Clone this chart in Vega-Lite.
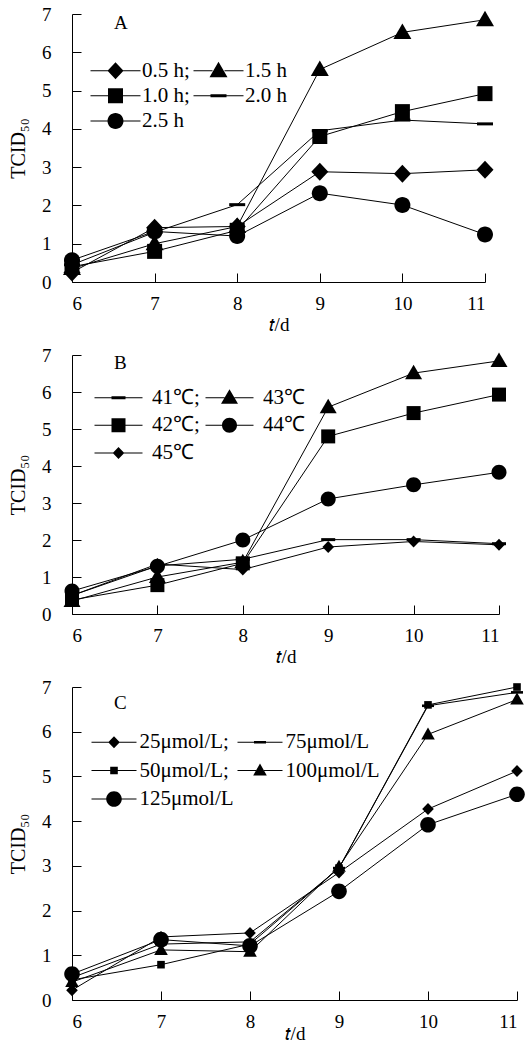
{
  "$schema": "https://vega.github.io/schema/vega-lite/v6.json",
  "padding": {"left": 8, "top": 5, "right": 0, "bottom": 0},
  "config": {
    "font": "Liberation Serif",
    "view": {"stroke": null},
    "axis": {
      "grid": false, "domainColor": "black", "tickColor": "black", "labelColor": "black", "titleColor": "black",
      "tickSize": -9, "domainWidth": 1, "tickWidth": 1, "labelFontSize": 19, "titleFontSize": 19, "titleFontWeight": "normal"
    },
    "axisX": {"labelPadding": 21, "titlePadding": 2},
    "axisY": {"labelPadding": 30, "titlePadding": 13, "titleFontSize": 20},
    "legend": {"padding": 0, "labelFontSize": 21, "labelColor": "black", "symbolStrokeWidth": 0, "symbolFillColor": "black", "symbolSize": 400, "columns": 2, "orient": "none", "title": null, "symbolLimit": 0},
    "title": {"fontSize": 19, "fontWeight": "normal", "color": "black", "anchor": "start", "frame": "group", "dx": 42}
  },
  "datasets": {
    "A": [
      {"day": 6, "value": 0.25, "series": "0.5 h"}, {"day": 7, "value": 1.42, "series": "0.5 h"}, {"day": 8, "value": 1.45, "series": "0.5 h"}, {"day": 9, "value": 2.88, "series": "0.5 h"}, {"day": 10, "value": 2.83, "series": "0.5 h"}, {"day": 11, "value": 2.93, "series": "0.5 h"},
      {"day": 6, "value": 0.40, "series": "1.0 h"}, {"day": 7, "value": 0.80, "series": "1.0 h"}, {"day": 8, "value": 1.35, "series": "1.0 h"}, {"day": 9, "value": 3.80, "series": "1.0 h"}, {"day": 10, "value": 4.45, "series": "1.0 h"}, {"day": 11, "value": 4.92, "series": "1.0 h"},
      {"day": 6, "value": 0.35, "series": "1.5 h"}, {"day": 7, "value": 1.00, "series": "1.5 h"}, {"day": 8, "value": 1.45, "series": "1.5 h"}, {"day": 9, "value": 5.55, "series": "1.5 h"}, {"day": 10, "value": 6.52, "series": "1.5 h"}, {"day": 11, "value": 6.85, "series": "1.5 h"},
      {"day": 6, "value": 0.45, "series": "2.0 h"}, {"day": 7, "value": 1.30, "series": "2.0 h"}, {"day": 8, "value": 2.02, "series": "2.0 h"}, {"day": 9, "value": 3.95, "series": "2.0 h"}, {"day": 10, "value": 4.23, "series": "2.0 h"}, {"day": 11, "value": 4.13, "series": "2.0 h"},
      {"day": 6, "value": 0.57, "series": "2.5 h"}, {"day": 7, "value": 1.32, "series": "2.5 h"}, {"day": 8, "value": 1.20, "series": "2.5 h"}, {"day": 9, "value": 2.32, "series": "2.5 h"}, {"day": 10, "value": 2.01, "series": "2.5 h"}, {"day": 11, "value": 1.24, "series": "2.5 h"}
    ],
    "B": [
      {"day": 6, "value": 0.50, "series": "41℃"}, {"day": 7, "value": 1.30, "series": "41℃"}, {"day": 8, "value": 1.48, "series": "41℃"}, {"day": 9, "value": 2.01, "series": "41℃"}, {"day": 10, "value": 2.01, "series": "41℃"}, {"day": 11, "value": 1.90, "series": "41℃"},
      {"day": 6, "value": 0.38, "series": "42℃"}, {"day": 7, "value": 0.78, "series": "42℃"}, {"day": 8, "value": 1.37, "series": "42℃"}, {"day": 9, "value": 4.80, "series": "42℃"}, {"day": 10, "value": 5.43, "series": "42℃"}, {"day": 11, "value": 5.93, "series": "42℃"},
      {"day": 6, "value": 0.35, "series": "43℃"}, {"day": 7, "value": 1.00, "series": "43℃"}, {"day": 8, "value": 1.40, "series": "43℃"}, {"day": 9, "value": 5.59, "series": "43℃"}, {"day": 10, "value": 6.51, "series": "43℃"}, {"day": 11, "value": 6.84, "series": "43℃"},
      {"day": 6, "value": 0.62, "series": "44℃"}, {"day": 7, "value": 1.29, "series": "44℃"}, {"day": 8, "value": 2.00, "series": "44℃"}, {"day": 9, "value": 3.11, "series": "44℃"}, {"day": 10, "value": 3.49, "series": "44℃"}, {"day": 11, "value": 3.83, "series": "44℃"},
      {"day": 6, "value": 0.50, "series": "45℃"}, {"day": 7, "value": 1.35, "series": "45℃"}, {"day": 8, "value": 1.20, "series": "45℃"}, {"day": 9, "value": 1.81, "series": "45℃"}, {"day": 10, "value": 1.96, "series": "45℃"}, {"day": 11, "value": 1.87, "series": "45℃"}
    ],
    "C": [
      {"day": 6, "value": 0.22, "series": "25μmol/L"}, {"day": 7, "value": 1.41, "series": "25μmol/L"}, {"day": 8, "value": 1.50, "series": "25μmol/L"}, {"day": 9, "value": 2.85, "series": "25μmol/L"}, {"day": 10, "value": 4.27, "series": "25μmol/L"}, {"day": 11, "value": 5.12, "series": "25μmol/L"},
      {"day": 6, "value": 0.45, "series": "50μmol/L"}, {"day": 7, "value": 0.79, "series": "50μmol/L"}, {"day": 8, "value": 1.25, "series": "50μmol/L"}, {"day": 9, "value": 2.95, "series": "50μmol/L"}, {"day": 10, "value": 6.60, "series": "50μmol/L"}, {"day": 11, "value": 7.00, "series": "50μmol/L"},
      {"day": 6, "value": 0.50, "series": "75μmol/L"}, {"day": 7, "value": 1.25, "series": "75μmol/L"}, {"day": 8, "value": 1.30, "series": "75μmol/L"}, {"day": 9, "value": 2.95, "series": "75μmol/L"}, {"day": 10, "value": 6.58, "series": "75μmol/L"}, {"day": 11, "value": 6.88, "series": "75μmol/L"},
      {"day": 6, "value": 0.40, "series": "100μmol/L"}, {"day": 7, "value": 1.12, "series": "100μmol/L"}, {"day": 8, "value": 1.08, "series": "100μmol/L"}, {"day": 9, "value": 2.98, "series": "100μmol/L"}, {"day": 10, "value": 5.94, "series": "100μmol/L"}, {"day": 11, "value": 6.72, "series": "100μmol/L"},
      {"day": 6, "value": 0.58, "series": "125μmol/L"}, {"day": 7, "value": 1.35, "series": "125μmol/L"}, {"day": 8, "value": 1.21, "series": "125μmol/L"}, {"day": 9, "value": 2.43, "series": "125μmol/L"}, {"day": 10, "value": 3.92, "series": "125μmol/L"}, {"day": 11, "value": 4.60, "series": "125μmol/L"}
    ]
  },
  "spacing": 12,
  "vconcat": [
    {
      "width": 413, "height": 268,
      "data": {"name": "A"},
      "title": {"text": "A", "offset": -27.5},
      "encoding": {
        "x": {"field": "day", "type": "quantitative", "scale": {"domain": [6, 11], "nice": false, "zero": false}, "axis": {"values": [6, 7, 8, 9, 10, 11], "title": "𝑡/d"}},
        "y": {"field": "value", "type": "quantitative", "scale": {"domain": [0, 7], "nice": false}, "axis": {"values": [0, 1, 2, 3, 4, 5, 6, 7], "title": "TCID₅₀"}}
      },
      "layer": [
        {"mark": {"type": "line", "color": "black", "strokeWidth": 1}, "encoding": {"detail": {"field": "series"}, "order": {"field": "day"}}},
        {"mark": {"type": "point", "filled": true, "color": "black", "opacity": 1, "size": 400},
         "encoding": {"shape": {"field": "series", "legend": null, "scale": {"domain": ["0.5 h", "1.0 h", "1.5 h", "2.0 h", "2.5 h"], "range": [
           "M0,-0.9L0.85,0L0,0.9L-0.85,0Z",
           "M-0.75,-0.75H0.75V0.75H-0.75Z",
           "M0,-0.9L0.9,0.65L-0.9,0.65Z",
           "M-0.8,-0.15H0.8V0.15H-0.8Z",
           "M-0.8,0A0.8,0.8,0,1,1,0.8,0A0.8,0.8,0,1,1,-0.8,0Z"]}}}},
        {"mark": {"type": "point", "filled": true, "color": "black", "opacity": 0, "size": 400},
         "encoding": {"shape": {"field": "series",
           "legend": {"legendX": 18, "legendY": 46, "symbolOffset": 15, "labelOffset": 16, "rowPadding": 3.3, "columnPadding": 3,
             "labelExpr": "datum.label == '0.5 h' || datum.label == '1.0 h' ? datum.label + ';' : datum.label"},
           "scale": {"domain": ["0.5 h", "1.0 h", "2.5 h", "1.5 h", "2.0 h"], "range": [
           "M-2.5,-0.05H-0.6V0.05H-2.5Z M0.6,-0.05H2.5V0.05H0.6Z M0,-0.85L0.8,0L0,0.85L-0.8,0Z",
           "M-2.5,-0.05H-0.6V0.05H-2.5Z M0.6,-0.05H2.5V0.05H0.6Z M-0.75,-0.75H0.75V0.75H-0.75Z",
           "M-2.5,-0.05H-0.6V0.05H-2.5Z M0.6,-0.05H2.5V0.05H0.6Z M-0.8,0A0.8,0.8,0,1,1,0.8,0A0.8,0.8,0,1,1,-0.8,0Z",
           "M-2.5,-0.05H-0.6V0.05H-2.5Z M0.6,-0.05H2.5V0.05H0.6Z M0,-0.9L0.9,0.65L-0.9,0.65Z",
           "M-2.5,-0.05H-0.6V0.05H-2.5Z M0.6,-0.05H2.5V0.05H0.6Z M-0.8,-0.15H0.8V0.15H-0.8Z"]}}}}
      ],
      "resolve": {"scale": {"shape": "independent"}}
    },
    {
      "width": 427, "height": 259,
      "data": {"name": "B"},
      "title": {"text": "B", "offset": -27},
      "encoding": {
        "x": {"field": "day", "type": "quantitative", "scale": {"domain": [6, 11], "nice": false, "zero": false}, "axis": {"values": [6, 7, 8, 9, 10, 11], "title": "𝑡/d"}},
        "y": {"field": "value", "type": "quantitative", "scale": {"domain": [0, 7], "nice": false}, "axis": {"values": [0, 1, 2, 3, 4, 5, 6, 7], "title": "TCID₅₀"}}
      },
      "layer": [
        {"mark": {"type": "line", "color": "black", "strokeWidth": 1}, "encoding": {"detail": {"field": "series"}, "order": {"field": "day"}}},
        {"mark": {"type": "point", "filled": true, "color": "black", "opacity": 1, "size": 400},
         "encoding": {"shape": {"field": "series", "legend": null, "scale": {"domain": ["41℃", "42℃", "43℃", "44℃", "45℃"], "range": [
           "M-0.7,-0.15H0.7V0.15H-0.7Z",
           "M-0.7,-0.7H0.7V0.7H-0.7Z",
           "M0,-0.85L0.85,0.6L-0.85,0.6Z",
           "M-0.75,0A0.75,0.75,0,1,1,0.75,0A0.75,0.75,0,1,1,-0.75,0Z",
           "M0,-0.6L0.58,0L0,0.6L-0.58,0Z"]}}}},
        {"mark": {"type": "point", "filled": true, "color": "black", "opacity": 0, "size": 400},
         "encoding": {"shape": {"field": "series",
           "legend": {"legendX": 22, "legendY": 32, "symbolOffset": 14, "labelOffset": 23, "rowPadding": 5.7, "columnPadding": 5,
             "labelExpr": "datum.label == '41℃' || datum.label == '42℃' ? datum.label + ';' : datum.label"},
           "scale": {"domain": ["41℃", "42℃", "45℃", "43℃", "44℃"], "range": [
           "M-2.4,-0.05H-0.5V0.05H-2.4Z M0.5,-0.05H2.4V0.05H0.5Z M-0.7,-0.15H0.7V0.15H-0.7Z",
           "M-2.4,-0.05H-0.5V0.05H-2.4Z M0.5,-0.05H2.4V0.05H0.5Z M-0.7,-0.7H0.7V0.7H-0.7Z",
           "M-2.4,-0.05H-0.5V0.05H-2.4Z M0.5,-0.05H2.4V0.05H0.5Z M0,-0.6L0.58,0L0,0.6L-0.58,0Z",
           "M-2.4,-0.05H-0.5V0.05H-2.4Z M0.5,-0.05H2.4V0.05H0.5Z M0,-0.85L0.85,0.6L-0.85,0.6Z",
           "M-2.4,-0.05H-0.5V0.05H-2.4Z M0.5,-0.05H2.4V0.05H0.5Z M-0.75,0A0.75,0.75,0,1,1,0.75,0A0.75,0.75,0,1,1,-0.75,0Z"]}}}}
      ],
      "resolve": {"scale": {"shape": "independent"}}
    },
    {
      "width": 445, "height": 313,
      "data": {"name": "C"},
      "title": {"text": "C", "offset": -35},
      "encoding": {
        "x": {"field": "day", "type": "quantitative", "scale": {"domain": [6, 11], "nice": false, "zero": false}, "axis": {"values": [6, 7, 8, 9, 10, 11], "title": "𝑡/d", "titlePadding": -7}},
        "y": {"field": "value", "type": "quantitative", "scale": {"domain": [0, 7], "nice": false}, "axis": {"values": [0, 1, 2, 3, 4, 5, 6, 7], "title": "TCID₅₀"}}
      },
      "layer": [
        {"mark": {"type": "line", "color": "black", "strokeWidth": 1}, "encoding": {"detail": {"field": "series"}, "order": {"field": "day"}}},
        {"mark": {"type": "point", "filled": true, "color": "black", "opacity": 1, "size": 400},
         "encoding": {"shape": {"field": "series", "legend": null, "scale": {"domain": ["25μmol/L", "50μmol/L", "75μmol/L", "100μmol/L", "125μmol/L"], "range": [
           "M0,-0.6L0.58,0L0,0.6L-0.58,0Z",
           "M-0.38,-0.38H0.38V0.38H-0.38Z",
           "M-0.6,-0.13H0.6V0.13H-0.6Z",
           "M0,-0.7L0.68,0.5L-0.68,0.5Z",
           "M-0.78,0A0.78,0.78,0,1,1,0.78,0A0.78,0.78,0,1,1,-0.78,0Z"]}}}},
        {"mark": {"type": "point", "filled": true, "color": "black", "opacity": 0, "size": 400},
         "encoding": {"shape": {"field": "series",
           "legend": {"legendX": 19, "legendY": 44.5, "symbolOffset": 12.5, "labelOffset": 15, "rowPadding": 6.5, "columnPadding": 3,
             "labelExpr": "datum.label == '25μmol/L' || datum.label == '50μmol/L' ? datum.label + ';' : datum.label"},
           "scale": {"domain": ["25μmol/L", "50μmol/L", "125μmol/L", "75μmol/L", "100μmol/L"], "range": [
           "M-2.25,-0.05H-0.4V0.05H-2.25Z M0.4,-0.05H2.25V0.05H0.4Z M0,-0.6L0.58,0L0,0.6L-0.58,0Z",
           "M-2.25,-0.05H-0.3V0.05H-2.25Z M0.3,-0.05H2.25V0.05H0.3Z M-0.38,-0.38H0.38V0.38H-0.38Z",
           "M-2.25,-0.05H-0.5V0.05H-2.25Z M0.5,-0.05H2.25V0.05H0.5Z M-0.78,0A0.78,0.78,0,1,1,0.78,0A0.78,0.78,0,1,1,-0.78,0Z",
           "M-2.25,-0.05H-0.4V0.05H-2.25Z M0.4,-0.05H2.25V0.05H0.4Z M-0.6,-0.13H0.6V0.13H-0.6Z",
           "M-2.25,-0.05H-0.4V0.05H-2.25Z M0.4,-0.05H2.25V0.05H0.4Z M0,-0.7L0.68,0.5L-0.68,0.5Z"]}}}}
      ],
      "resolve": {"scale": {"shape": "independent"}}
    }
  ]
}
